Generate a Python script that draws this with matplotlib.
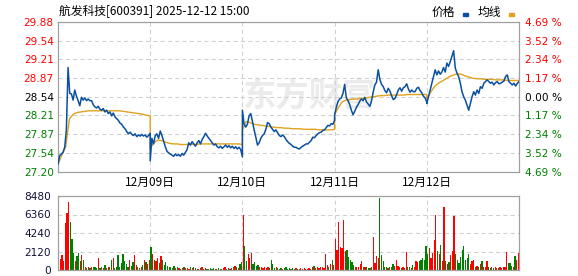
import matplotlib
matplotlib.use("Agg")
import matplotlib.pyplot as plt
import numpy as np
from matplotlib.patches import Rectangle

plt.rcParams['font.family'] = ['Noto Sans CJK SC', 'DejaVu Sans']

# ---- data ----
dates = ["12月09日", "12月10日", "12月11日", "12月12日"]
pre_close = 28.54
price_ticks = [27.20, 27.54, 27.87, 28.21, 28.54, 28.87, 29.21, 29.54, 29.88]
pct_labels = ["4.69 %", "3.52 %", "2.34 %", "1.17 %", "0.00 %",
              "1.17 %", "2.34 %", "3.52 %", "4.69 %"]
vol_ticks = [0, 2120, 4240, 6360, 8480]

# price every ~4 min, one list per trading day
day1_price = [27.34, 27.49, 27.52, 27.55, 27.64, 27.95, 29.06, 28.60, 28.59, 28.48,
              28.66, 28.55, 28.47, 28.38, 28.53, 28.48, 28.52, 28.47, 28.50, 28.47,
              28.47, 28.40, 28.36, 28.34, 28.37, 28.32, 28.30, 28.33, 28.27, 28.30,
              28.24, 28.27, 28.20, 28.25, 28.18, 28.15, 28.12, 28.07, 28.05, 28.00,
              27.97, 27.92, 27.88, 27.91, 27.87, 27.85, 27.88, 27.83, 27.86, 27.84,
              27.87, 27.84, 27.86, 27.82, 27.85, 27.89]
day2_price = [27.40, 27.80, 27.70, 27.85, 27.88, 27.80, 27.93, 27.85, 27.75, 27.65,
              27.57, 27.54, 27.52, 27.50, 27.48, 27.52, 27.49, 27.51, 27.48, 27.53,
              27.50, 27.55, 27.60, 27.72, 27.68, 27.74, 27.70, 27.66, 27.72, 27.76,
              27.70, 27.78, 27.83, 27.89, 27.84, 27.80, 27.76, 27.72, 27.68, 27.70,
              27.65, 27.63, 27.66, 27.62, 27.65, 27.68, 27.64, 27.67, 27.63, 27.66,
              27.62, 27.65, 27.61, 27.64, 27.60, 27.47]
day3_price = [28.30, 28.05, 28.00, 28.05, 28.20, 28.24, 28.10, 27.95, 27.82, 27.68,
              27.72, 27.80, 27.85, 27.88, 27.96, 28.08, 28.06, 28.00, 27.96, 27.92,
              27.95, 27.90, 27.85, 27.83, 27.86, 27.83, 27.78, 27.74, 27.71, 27.69,
              27.66, 27.64, 27.64, 27.62, 27.61, 27.64, 27.66, 27.68, 27.70, 27.70,
              27.73, 27.76, 27.82, 27.81, 27.85, 27.88, 27.90, 27.91, 27.94, 27.95,
              27.99, 28.03, 28.02, 28.06, 28.05, 28.12]
day4_price = [28.22, 28.35, 28.45, 28.50, 28.52, 28.60, 28.76, 28.52, 28.47, 28.40,
              28.30, 28.22, 28.28, 28.35, 28.40, 28.46, 28.50, 28.47, 28.53, 28.45,
              28.41, 28.37, 28.46, 28.62, 28.75, 28.80, 29.02, 28.85, 28.76, 28.72,
              28.65, 28.61, 28.69, 28.64, 28.56, 28.49, 28.51, 28.58, 28.66, 28.70,
              28.64, 28.70, 28.72, 28.77, 28.68, 28.62, 28.66, 28.63, 28.63, 28.69,
              28.71, 28.65, 28.61, 28.55, 28.52, 28.44]
day5_price = [28.42, 28.54, 28.66, 28.78, 28.90, 29.02, 28.93, 29.00, 28.94, 28.98,
              29.06, 28.98, 29.14, 29.08, 29.17, 29.26, 29.36, 29.05, 28.96, 28.90,
              28.78, 28.63, 28.54, 28.48, 28.39, 28.30, 28.42, 28.54, 28.63, 28.57,
              28.66, 28.60, 28.72, 28.69, 28.78, 28.81, 28.84, 28.81, 28.78, 28.80,
              28.75, 28.79, 28.81, 28.77, 28.78, 28.80, 28.82, 28.90, 28.93, 28.81,
              28.78, 28.75, 28.78, 28.73, 28.78, 28.81]

# average price line, every ~10 min
day1_avg = [27.34, 27.50, 27.65, 28.15, 28.23, 28.26, 28.27, 28.28, 28.29, 28.29,
            28.29, 28.29, 28.29, 28.29, 28.29, 28.29, 28.29, 28.28, 28.27, 28.26,
            28.25, 28.24, 28.23, 28.21, 28.20]
day2_avg = [27.62, 27.72, 27.77, 27.76, 27.73, 27.71, 27.70, 27.70, 27.69, 27.69,
            27.69, 27.69, 27.69, 27.70, 27.70, 27.70, 27.70, 27.70, 27.70, 27.70,
            27.70, 27.70, 27.70, 27.70, 27.69]
day3_avg = [27.95, 28.10, 28.08, 28.05, 28.04, 28.03, 28.02, 28.01, 28.00, 27.99,
            27.99, 27.98, 27.98, 27.97, 27.97, 27.97, 27.96, 27.96, 27.96, 27.96,
            27.95, 27.95, 27.95, 27.95, 27.96]
day4_avg = [28.22, 28.35, 28.45, 28.48, 28.49, 28.50, 28.50, 28.51, 28.52, 28.53,
            28.54, 28.55, 28.56, 28.56, 28.57, 28.57, 28.57, 28.57, 28.57, 28.58,
            28.58, 28.58, 28.58, 28.58, 28.58]
day5_avg = [28.50, 28.62, 28.72, 28.78, 28.82, 28.86, 28.90, 28.93, 28.95, 28.94,
            28.91, 28.89, 28.87, 28.86, 28.86, 28.85, 28.85, 28.85, 28.84, 28.84,
            28.84, 28.83, 28.83, 28.83, 28.83]

# volume, same sampling as price
day1_vol = [2600, 1300, 1700, 1000, 5400, 6500, 7800, 5500, 3500, 2000,
            1000, 1600, 2000, 1000, 1700, 1200, 300, 200, 300, 200,
            300, 400, 300, 200, 1400, 200, 300, 200, 600, 200,
            400, 300, 1200, 1400, 200, 300, 1700, 400, 800, 1800,
            1000, 700, 400, 1200, 500, 900, 1700, 600, 300, 200,
            300, 600, 1200, 900, 700, 1200]
day2_vol = [2600, 1800, 1200, 1000, 1400, 800, 1600, 1200, 600, 900,
            500, 400, 300, 200, 500, 200, 300, 200, 100, 200,
            300, 200, 200, 100, 300, 200, 400, 200, 150, 100,
            200, 300, 150, 200, 100, 150, 200, 100, 200, 150,
            100, 200, 150, 100, 200, 300, 150, 200, 100, 200,
            300, 500, 400, 200, 700, 900]
day3_vol = [6300, 2700, 1000, 1800, 1400, 2000, 700, 900, 500, 600,
            400, 300, 200, 300, 200, 300, 200, 1100, 700, 200,
            300, 200, 100, 200, 100, 200, 400, 100, 200, 100,
            200, 100, 200, 100, 150, 200, 100, 200, 150, 100,
            200, 150, 300, 500, 200, 300, 200, 400, 300, 200,
            1800, 600, 300, 700, 1100, 600]
day4_vol = [3500, 2300, 5500, 2600, 2500, 5700, 2200, 2300, 1500, 1200,
            900, 600, 300, 400, 300, 700, 1000, 400, 300, 300,
            200, 200, 300, 3800, 800, 1600, 1400, 8200, 1700, 1000,
            300, 300, 200, 400, 300, 700, 500, 1100, 500, 300,
            200, 300, 200, 2100, 300, 300, 200, 600, 400, 1000,
            900, 1000, 1200, 1400, 1200, 2700]
day5_vol = [1800, 2500, 1400, 2000, 3400, 6300, 2200, 1800, 2900, 1000,
            7200, 1000, 700, 900, 1700, 2200, 6200, 1800, 1100, 800,
            1500, 2300, 2700, 1200, 1400, 1800, 700, 1000, 1200, 400,
            500, 300, 700, 1000, 300, 400, 1000, 300, 200, 300,
            200, 300, 200, 200, 300, 200, 300, 400, 2100, 800,
            800, 500, 300, 1600, 1200, 1900]

prices = [day1_price, day2_price, day3_price, day4_price, day5_price]
avgs = [day1_avg, day2_avg, day3_avg, day4_avg, day5_avg]
vols = [day1_vol, day2_vol, day3_vol, day4_vol, day5_vol]

# ---- build x positions (one unit per trading day) ----
px, py, axx, ay, vx, vy = [], [], [], [], [], []
for d in range(5):
    n = len(prices[d])
    px.extend(np.linspace(d, d + 1, n))
    py.extend(prices[d])
    m = len(avgs[d])
    axx.extend(np.linspace(d, d + 1, m))
    ay.extend(avgs[d])
    k = len(vols[d])
    vx.extend(d + (np.arange(k) + 0.5) / k)
    vy.extend(vols[d])
py = np.array(py)
up = np.r_[True, py[1:] >= py[:-1]]
bar_colors = np.where(up, "#ff0000", "#008000")

BLUE = "#0a4fa0"
GOLD = "#e0a21c"
GRID = "#cfcfcf"
EDGE = "#a0a0a0"
NUMFONT = ['DejaVu Sans']

W, H = 578, 276
fig = plt.figure(figsize=(W / 100, H / 100), dpi=100)
ax = fig.add_axes([58 / W, 1 - 172 / H, 461 / W, 150.5 / H])
axv = fig.add_axes([58 / W, 1 - 270 / H, 461 / W, 74 / H])

# watermark
ax.text(0.545, 0.5, "东方财富", transform=ax.transAxes, ha="center", va="center",
        fontsize=24, fontweight="bold", color="#ebebeb", zorder=0)

ax.plot(axx, ay, color=GOLD, lw=1.0, zorder=3)
ax.plot(px, py, color=BLUE, lw=1.1, zorder=4)
ax.set_xlim(0, 5)
ax.set_ylim(price_ticks[0], price_ticks[-1])

axv.bar(vx, vy, width=0.75 / 56, color=bar_colors, linewidth=0)
axv.set_xlim(0, 5)
axv.set_ylim(vol_ticks[0], vol_ticks[-1])

for a in (ax, axv):
    for s in a.spines.values():
        s.set_color(EDGE)
        s.set_linewidth(0.9)
    a.set_xticks([1, 2, 3, 4])
    a.grid(True, color=GRID, lw=0.75, linestyle=(0, (4, 3)))
    a.tick_params(length=0)
    a.set_axisbelow(True)

ax.set_xticklabels(dates, fontsize=8.5, color="black")
ax.tick_params(axis="x", pad=3)
axv.set_xticklabels([])

# left price labels
ax.set_yticks(price_ticks)
ax.set_yticklabels(["%.2f" % p for p in price_ticks], family=NUMFONT, fontsize=7.6)
ax.tick_params(axis="y", pad=3)
for lab, p in zip(ax.get_yticklabels(), price_ticks):
    if abs(p - pre_close) < 1e-6:
        lab.set_color("black")
    elif p > pre_close:
        lab.set_color("#ff0000")
    else:
        lab.set_color("#008000")

# right percent labels
ax2 = ax.twinx()
ax2.set_ylim(ax.get_ylim())
ax2.set_yticks(price_ticks)
ax2.set_yticklabels(pct_labels[::-1], family=NUMFONT, fontsize=7.6)
ax2.tick_params(length=0, pad=4)
for s in ax2.spines.values():
    s.set_visible(False)
for lab, p in zip(ax2.get_yticklabels(), price_ticks):
    if abs(p - pre_close) < 1e-6:
        lab.set_color("black")
    elif p > pre_close:
        lab.set_color("#ff0000")
    else:
        lab.set_color("#008000")

axv.set_yticks(vol_ticks)
axv.set_yticklabels([str(v) for v in vol_ticks], family=NUMFONT, fontsize=7.6,
                    color="#10103a")
axv.tick_params(axis="y", pad=5)

# title and legend
fig.text(59 / W, 1 - 12 / H, "航发科技[600391] 2025-12-12 15:00", ha="left",
         va="center", fontsize=8.5, color="black")
fig.text(432 / W, 1 - 12 / H, "价格", ha="left", va="center", fontsize=8.5)
fig.text(478 / W, 1 - 12 / H, "均线", ha="left", va="center", fontsize=8.5)
fig.patches.append(Rectangle((462.5 / W, 1 - 16 / H), 5 / W, 3 / H,
                             transform=fig.transFigure, color=BLUE))
fig.patches.append(Rectangle((508.5 / W, 1 - 16 / H), 5 / W, 3 / H,
                             transform=fig.transFigure, color=GOLD))

fig.savefig("out.png", dpi=100)
